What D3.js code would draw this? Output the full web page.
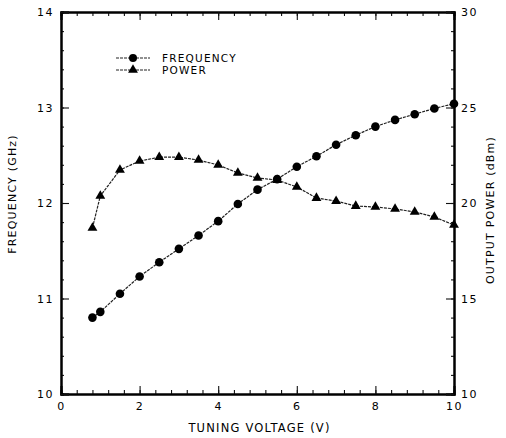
<!DOCTYPE html>
<html><head><meta charset="utf-8">
<script src="https://cdn.jsdelivr.net/npm/d3@7"></script>
<style>
body{margin:0;background:#fff;}
text{font-family:"DejaVu Sans",sans-serif;fill:#000;}
</style></head>
<body><svg id="c" width="506" height="438"></svg>
<script>
const voltage = [0.8,1.0,1.5,2.0,2.5,3.0,3.5,4.0,4.5,5.0,5.5,6.0,6.5,7.0,7.5,8.0,8.5,9.0,9.5,10.0];
const frequency = [10.80,10.86,11.05,11.23,11.38,11.52,11.66,11.81,11.99,12.14,12.25,12.38,12.49,12.61,12.71,12.80,12.87,12.93,12.99,13.04];
const power = [18.69,20.37,21.73,22.20,22.40,22.40,22.25,21.99,21.57,21.31,21.20,20.84,20.26,20.10,19.84,19.79,19.69,19.53,19.27,18.85];
const xTicks = [0,2,4,6,8,10];
const freqTicks = [10,11,12,13,14];
const powerTicks = [10,15,20,25,30];
const legendLabels = ["FREQUENCY","POWER"];

const svg = d3.select("#c");
const L=61, R=454, T=12, B=394;
const x = d3.scaleLinear().domain([0,10]).range([L,R]);
const yF = d3.scaleLinear().domain([10,14]).range([B,T]);
const yP = d3.scaleLinear().domain([10,30]).range([B,T]);

const minorX = d3.range(0,10.001,0.4);
const minorF = d3.range(10,14.001,0.2);
const minorP = d3.range(10,30.001,1);

function style(g){ g.select(".domain").attr("stroke","#000").attr("stroke-width",2);
  g.selectAll(".tick line").attr("stroke","#111").attr("stroke-width",1.1);
  g.selectAll(".tick text").attr("font-size",11).attr("letter-spacing","1.5px").attr("fill","#000");}

// bottom
svg.append("g").attr("transform",`translate(0,${B})`).call(d3.axisBottom(x).tickValues(minorX).tickSize(-4).tickFormat("")).call(style);
svg.append("g").attr("transform",`translate(0,${B})`).call(d3.axisBottom(x).tickValues(xTicks).tickSize(-8).tickPadding(8).tickFormat(d3.format("d"))).call(style);
// top
svg.append("g").attr("transform",`translate(0,${T})`).call(d3.axisTop(x).tickValues(minorX).tickSize(-4).tickFormat("")).call(style);
svg.append("g").attr("transform",`translate(0,${T})`).call(d3.axisTop(x).tickValues(xTicks).tickSize(-8).tickFormat("")).call(style);
// left
svg.append("g").attr("transform",`translate(${L},0)`).call(d3.axisLeft(yF).tickValues(minorF).tickSize(-3).tickFormat("")).call(style);
svg.append("g").attr("transform",`translate(${L},0)`).call(d3.axisLeft(yF).tickValues(freqTicks).tickSize(-8).tickPadding(7).tickFormat(d3.format("d"))).call(style);
// right
svg.append("g").attr("transform",`translate(${R},0)`).call(d3.axisRight(yP).tickValues(minorP).tickSize(-3).tickFormat("")).call(style);
svg.append("g").attr("transform",`translate(${R},0)`).call(d3.axisRight(yP).tickValues(powerTicks).tickSize(-8).tickPadding(7).tickFormat(d3.format("d"))).call(style);

// axis titles
svg.append("text").attr("x",(L+R)/2+2).attr("y",432).attr("text-anchor","middle").attr("font-size",11.5).attr("letter-spacing","1.2px").text("TUNING VOLTAGE (V)");
svg.append("text").attr("transform","translate(16,194) rotate(-90)").attr("text-anchor","middle").attr("font-size",11).attr("letter-spacing","1.2px").text("FREQUENCY (GHz)");
svg.append("text").attr("transform","translate(494,210) rotate(-90)").attr("text-anchor","middle").attr("font-size",11).attr("letter-spacing","1.2px").text("OUTPUT POWER (dBm)");

const fData = voltage.map((v,i)=>[v,frequency[i]]);
const pData = voltage.map((v,i)=>[v,power[i]]);
const lineF = d3.line().x(d=>x(d[0])).y(d=>yF(d[1]));
const lineP = d3.line().x(d=>x(d[0])).y(d=>yP(d[1]));
svg.append("path").datum(fData).attr("d",lineF).attr("fill","none").attr("stroke","#222").attr("stroke-width",1.2).attr("stroke-dasharray","3,1");
svg.append("path").datum(pData).attr("d",lineP).attr("fill","none").attr("stroke","#222").attr("stroke-width",1.2).attr("stroke-dasharray","3,1");
svg.selectAll("circle.f").data(fData).join("circle").attr("class","f").attr("cx",d=>x(d[0])).attr("cy",d=>yF(d[1])).attr("r",4.3).attr("fill","#000");
const tri = d3.symbol().type(d3.symbolTriangle).size(42);
svg.selectAll("path.p").data(pData).join("path").attr("class","p").attr("d",tri).attr("transform",d=>`translate(${x(d[0])},${yP(d[1])})`).attr("fill","#000");

// legend
const lg = svg.append("g");
[0,1].forEach(i=>{
  const yy = 58 + i*12;
  lg.append("line").attr("x1",116).attr("x2",150).attr("y1",yy).attr("y2",yy).attr("stroke","#222").attr("stroke-width",1.2).attr("stroke-dasharray","3,1");
  if(i===0) lg.append("circle").attr("cx",133).attr("cy",yy).attr("r",4).attr("fill","#000");
  else lg.append("path").attr("d",tri).attr("transform",`translate(133,${yy})`).attr("fill","#000");
  lg.append("text").attr("x",162).attr("y",yy+4).attr("font-size",10.5).attr("letter-spacing","1.2px").text(legendLabels[i]);
});
</script></body></html>
